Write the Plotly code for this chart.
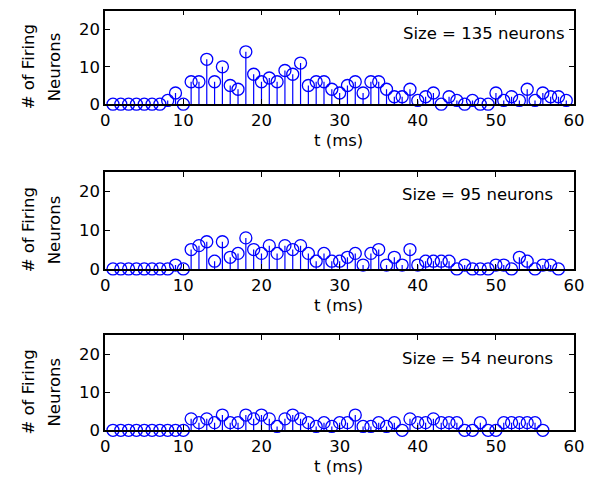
import plotly.graph_objects as go

# ---------------- data ----------------
t_top = list(range(1, 60))
n_top = [0, 0, 0, 0, 0, 0, 0, 1, 3, 0,
         6, 6, 12, 6, 10, 5, 4, 14, 8, 6,
         7, 6, 9, 8, 11, 5, 6, 6, 4, 3,
         5, 6, 3, 6, 6, 4, 2, 2, 4, 1,
         2, 3, 0, 2, 1, 0, 1, 0, 0, 3,
         1, 2, 1, 4, 1, 3, 2, 2, 1]

t_mid = list(range(1, 59))
n_mid = [0, 0, 0, 0, 0, 0, 0, 0, 1, 0,
         5, 6, 7, 2, 7, 3, 4, 8, 5, 4,
         6, 4, 6, 5, 6, 4, 2, 4, 2, 2,
         3, 4, 1, 4, 5, 1, 3, 1, 5, 1,
         2, 2, 2, 2, 0, 1, 0, 0, 0, 1,
         1, 0, 3, 2, 0, 1, 1, 0]

t_bot = list(range(1, 57))
n_bot = [0, 0, 0, 0, 0, 0, 0, 0, 0, 0,
         3, 2, 3, 2, 4, 2, 2, 4, 3, 4,
         3, 1, 3, 4, 3, 2, 1, 2, 1, 2,
         2, 4, 1, 1, 2, 1, 2, 0, 3, 2,
         2, 3, 2, 2, 2, 0, 0, 2, 0, 0,
         2, 2, 2, 2, 2, 0]

sizes = ["Size = 135 neurons", "Size = 95 neurons", "Size = 54 neurons"]
x_ticks = [0, 10, 20, 30, 40, 50, 60]
y_ticks = [0, 10, 20]

# ---------------- layout helpers ----------------
RW, RH = 600, 484          # reference picture size
W, H = 614, 495            # figure size
FONT = "DejaVu Sans"
FS = 16.5
BLUE = "#0000ff"

def fx(px):
    return px / RW

def fy(px):
    return 1 - px / RH

x_dom = [fx(100.5), fx(571)]
panels = [  # (top px, bottom px) in reference picture
    (10.6, 104.0),
    (171.5, 268.4),
    (334.3, 429.4),
]
series = [(t_top, n_top), (t_mid, n_mid), (t_bot, n_bot)]

fig = go.Figure()
annotations = []

for i, ((tpx, bpx), (ts, ns)) in enumerate(zip(panels, series)):
    k = "" if i == 0 else str(i + 1)
    xa, ya = "x" + k, "y" + k
    sx, sy = [], []
    for t, n in zip(ts, ns):
        sx += [t, t, None]
        sy += [0, n, None]
    fig.add_trace(go.Scatter(x=sx, y=sy, xaxis=xa, yaxis=ya, mode="lines",
                             line=dict(color=BLUE, width=1.2), hoverinfo="skip",
                             showlegend=False))
    fig.add_trace(go.Scatter(x=ts, y=ns, xaxis=xa, yaxis=ya, mode="markers",
                             marker=dict(symbol="circle-open", size=12,
                                         color=BLUE, line=dict(color=BLUE, width=1.3)),
                             cliponaxis=False, showlegend=False))
    axis_common = dict(showline=True, linecolor="black", linewidth=1.6, mirror="ticks",
                       ticks="inside", ticklen=5, tickwidth=1, tickcolor="black",
                       showgrid=False, zeroline=False,
                       tickfont=dict(family=FONT, size=FS, color="black"))
    fig.update_layout({
        "xaxis" + k: dict(domain=x_dom, range=[0, 60], tickvals=x_ticks,
                          anchor=ya, **axis_common),
        "yaxis" + k: dict(domain=[fy(bpx), fy(tpx)], range=[0, 25], tickvals=y_ticks,
                          anchor=xa, **axis_common),
    })
    # x title
    annotations.append(dict(text="t (ms)", x=fx(335), y=fy(bpx + 36), xref="paper",
                            yref="paper", showarrow=False, xanchor="center",
                            yanchor="middle", font=dict(family=FONT, size=FS, color="black")))
    # y title (two lines)
    cy = (tpx + bpx) / 2 + 9
    annotations.append(dict(text="# of Firing", x=fx(24), y=fy(cy), xref="paper",
                            yref="paper", showarrow=False, textangle=-90,
                            xanchor="center", yanchor="middle",
                            font=dict(family=FONT, size=FS, color="black")))
    annotations.append(dict(text="Neurons", x=fx(50), y=fy(cy), xref="paper",
                            yref="paper", showarrow=False, textangle=-90,
                            xanchor="center", yanchor="middle",
                            font=dict(family=FONT, size=FS, color="black")))
    # size label
    annotations.append(dict(text=sizes[i], x=fx(564 if i == 0 else 552),
                            y=fy(tpx + 23), xref="paper", yref="paper",
                            showarrow=False, xanchor="right", yanchor="middle",
                            font=dict(family=FONT, size=FS, color="black")))

fig.update_layout(width=W, height=H, margin=dict(l=0, r=0, t=0, b=0),
                  paper_bgcolor="white", plot_bgcolor="white",
                  annotations=annotations, showlegend=False)

fig.write_html("out.html", config={"displayModeBar": False},
               post_script="document.body.style.margin='0px';"
                           "document.body.style.overflow='hidden';")
